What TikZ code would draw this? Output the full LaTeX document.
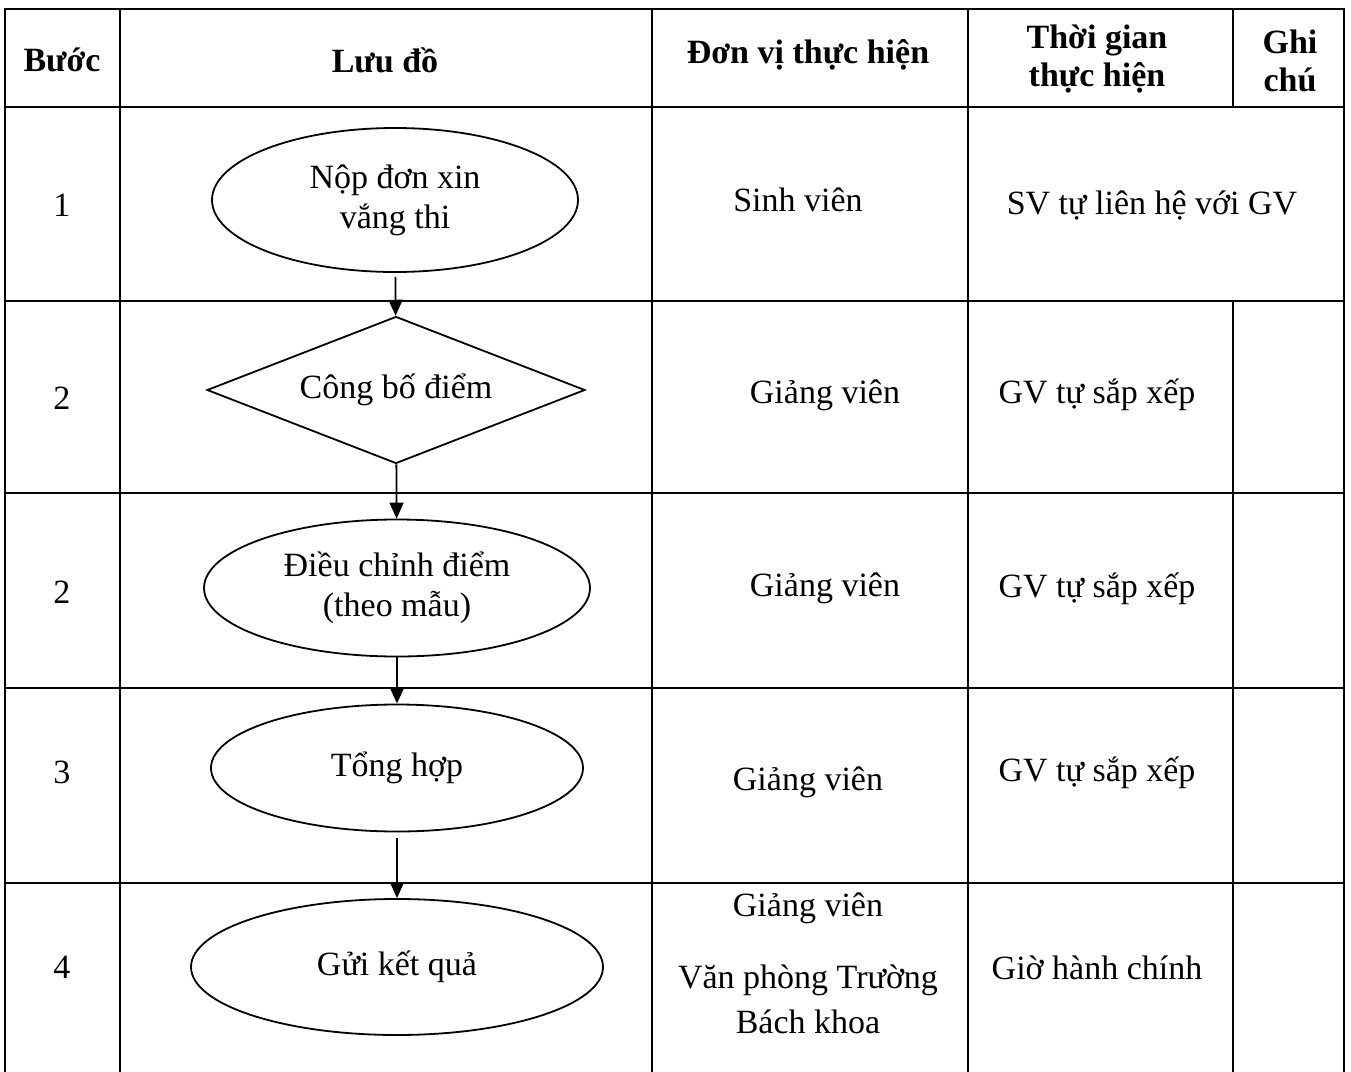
\documentclass[tikz,border=0pt]{standalone}
\usepackage{fontspec}
\setmainfont{Liberation Serif}
\usetikzlibrary{shapes.geometric,arrows.meta}

\begin{document}
\begin{tikzpicture}[>={Triangle[length=8pt,width=7pt]}, x=0.5pt, y=-0.5pt,
grid/.style={line width=0.8pt},
cell/.style={font=\fontsize{17}{20}\selectfont, align=center},
head/.style={font=\fontsize{17}{19}\selectfont\bfseries, align=center},
oval/.style={ellipse, draw, line width=0.9pt, cell, inner sep=0pt},
decision/.style={diamond, aspect=2.6, draw, line width=0.9pt, cell, inner sep=0pt}]
\useasboundingbox (0,0) rectangle (1351,1072);
% table
\draw[grid] (5,1072) -- (5,9) -- (1344,9) -- (1344,1072);
\foreach \y in {107,301,493,688,883}
  \draw[grid] (5,\y) -- (1344,\y);
\foreach \x in {120,652,968}
  \draw[grid] (\x,9) -- (\x,1072);
\draw[grid] (1233,9) -- (1233,107) (1233,301) -- (1233,1072);
% header
\node[head] (h-step) at (62,60) {Bước};
\node[head] (h-flow) at (385,60) {Lưu đồ};
\node[head] (h-unit) at (808,55) {Đơn vị thực hiện};
\node[head] (h-time) at (1097,59) {Thời gian\\thực hiện};
\node[head] (h-note) at (1290,61) {Ghi\\chú};
\foreach \n/\y/\s in {1/205/1,2/398/2,3/592/2,4/772/3,5/967/4}
  \node[cell] (step-\n) at (62,\y) {\s};
% flow
\node[oval, minimum width=183pt, minimum height=72pt] (nop) at (395,200) {Nộp đơn xin\\vắng thi};
\node[decision, minimum width=189pt, minimum height=73.5pt] (congbo) at (396,390) {Công bố điểm};
\node[oval, minimum width=193pt, minimum height=68.5pt] (dieuchinh) at (397,588) {Điều chỉnh điểm\\(theo mẫu)};
\node[oval, minimum width=186pt, minimum height=63.5pt] (tonghop) at (397,768) {Tổng hợp};
\node[oval, minimum width=206pt, minimum height=68pt] (gui) at (397,967) {Gửi kết quả};
\path[->,line width=0.9pt]
(nop) edge[shorten <=2pt] (congbo)
(congbo) edge (dieuchinh)
(dieuchinh) edge (tonghop)
(tonghop) edge[shorten <=3pt] (gui);
% units and times
\node[cell] (unit-1) at (798,200) {Sinh viên};
\node[cell] (time-1) at (1152,205) {SV tự liên hệ với GV};
\node[cell] (unit-2) at (825,395) {Giảng viên};
\node[cell] (time-2) at (1097,395) {GV tự sắp xếp};
\node[cell] (unit-3) at (825,588) {Giảng viên};
\node[cell] (time-3) at (1097,589) {GV tự sắp xếp};
\node[cell] (unit-4) at (808,782) {Giảng viên};
\node[cell] (time-4) at (1097,773) {GV tự sắp xếp};
\node[cell] (unit-5) at (808,963) {Giảng viên\\[16pt]Văn phòng Trường\\[2.5pt]Bách khoa};
\node[cell] (time-5) at (1097,968) {Giờ hành chính};
\end{tikzpicture}
\end{document}
